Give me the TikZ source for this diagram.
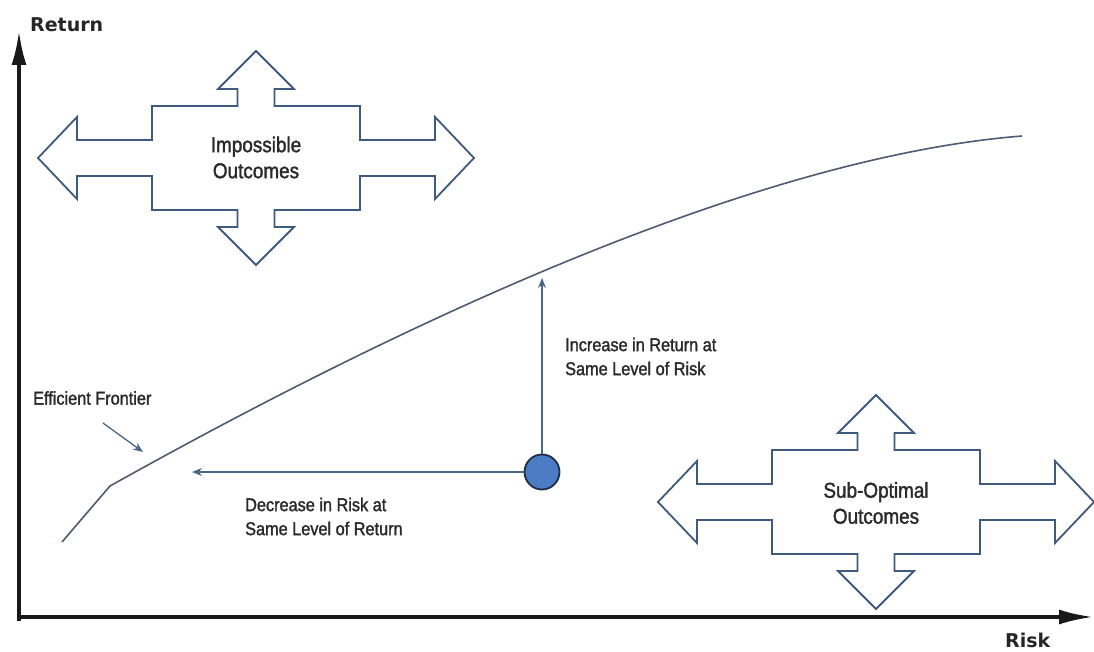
\documentclass[tikz,border=0pt]{standalone}
\usepackage{fontspec}
\usetikzlibrary{arrows.meta}
\newfontfamily\labfont[FakeStretch=0.88,FakeBold=1.6]{Liberation Sans}
\newfontfamily\axfont{DejaVu Sans}
\definecolor{outline}{HTML}{3E5A7E}
\definecolor{curvec}{HTML}{4D5C72}
\definecolor{conn}{HTML}{4A6688}
\definecolor{dotfill}{HTML}{4B7BC2}
\definecolor{dotline}{HTML}{1E2C46}
\definecolor{txt}{HTML}{2A2A2A}
\tikzset{
  axisline/.style={line width=3.5pt, draw=black!90, -{Latex[length=34pt,width=15pt]}},
  frontier/.style={line width=1.6pt, draw=curvec},
  connector/.style={line width=1.3pt, draw=conn, -{Stealth[length=10pt,width=8pt]}},
  blockline/.style={line width=1.8pt, draw=outline, line join=miter},
  bigtxt/.style={font=\labfont\fontsize{21.5}{26}\selectfont, text=txt, align=center, inner sep=0pt},
  smalltxt/.style={font=\labfont\fontsize{18.5}{24}\selectfont, text=txt, align=left, inner sep=0pt, anchor=west},
  axtxt/.style={font=\axfont\bfseries\fontsize{19}{22}\selectfont, text=black!85, inner sep=0pt, anchor=west},
  dot/.style={circle, draw=dotline, fill=dotfill, line width=1.8pt, minimum size=35pt, inner sep=0pt},
  pics/crossarrow/.style={code={
    \draw[blockline] (-104,-52) -- (-104,-18) -- (-179,-18) -- (-179,-41) -- (-218,0)
      -- (-179,41) -- (-179,18) -- (-104,18) -- (-104,52) -- (-18.5,52) -- (-18.5,69)
      -- (-38,69) -- (0,107) -- (38,69) -- (18.5,69) -- (18.5,52) -- (104,52)
      -- (104,18) -- (179,18) -- (179,41) -- (218,0) -- (179,-41) -- (179,-18)
      -- (104,-18) -- (104,-52) -- (18.5,-52) -- (18.5,-69) -- (38,-69) -- (0,-107)
      -- (-38,-69) -- (-18.5,-69) -- (-18.5,-52) -- cycle;
  }}
}
\begin{document}
\begin{tikzpicture}[x=1pt,y=-1pt]
\useasboundingbox (0,0) rectangle (1094,652);
\fill[white] (0,0) rectangle (1094,652);

% axes
\coordinate (yfoot) at (19,621);
\coordinate (ytop) at (19,31);
\coordinate (xfoot) at (17,617);
\coordinate (xtip) at (1093,617);
\draw[axisline] (yfoot) -- (ytop);
\draw[axisline] (xfoot) -- (xtip);
\node[axtxt] (ylab) at (30,25) {Return};
\node[axtxt] (xlab) at (1005,640) {Risk};

% block arrows
\pic at (256,158) {crossarrow};
\pic at (876,502) {crossarrow};
\node[bigtxt] (imp) at (256,157.5) {Impossible\\Outcomes};
\node[bigtxt] (sub) at (876,503) {Sub-Optimal\\Outcomes};

% efficient frontier
\coordinate (fstart) at (62,542);
\coordinate (fkink) at (110,486);
\coordinate (fend) at (1022,136);
\draw[frontier] (fstart) -- (fkink) .. controls (500,268) and (807,153) .. (fend);

\node[smalltxt] (ef) at (33,398) {Efficient Frontier};
\coordinate (efa) at (103,423);
\coordinate (efb) at (143,452);
\draw[connector] (efa) -- (efb);

% portfolio point and moves
\node[dot] (pt) at (542,472) {};
\coordinate (upend) at (542,278);
\coordinate (leftend) at (192,472);
\draw[connector] (pt) -- (upend);
\draw[connector] (pt) -- (leftend);

\node[smalltxt] (inc) at (565,356.5) {Increase in Return at\\Same Level of Risk};
\node[smalltxt] (dec) at (245,516.5) {Decrease in Risk at\\Same Level of Return};
\end{tikzpicture}
\end{document}
